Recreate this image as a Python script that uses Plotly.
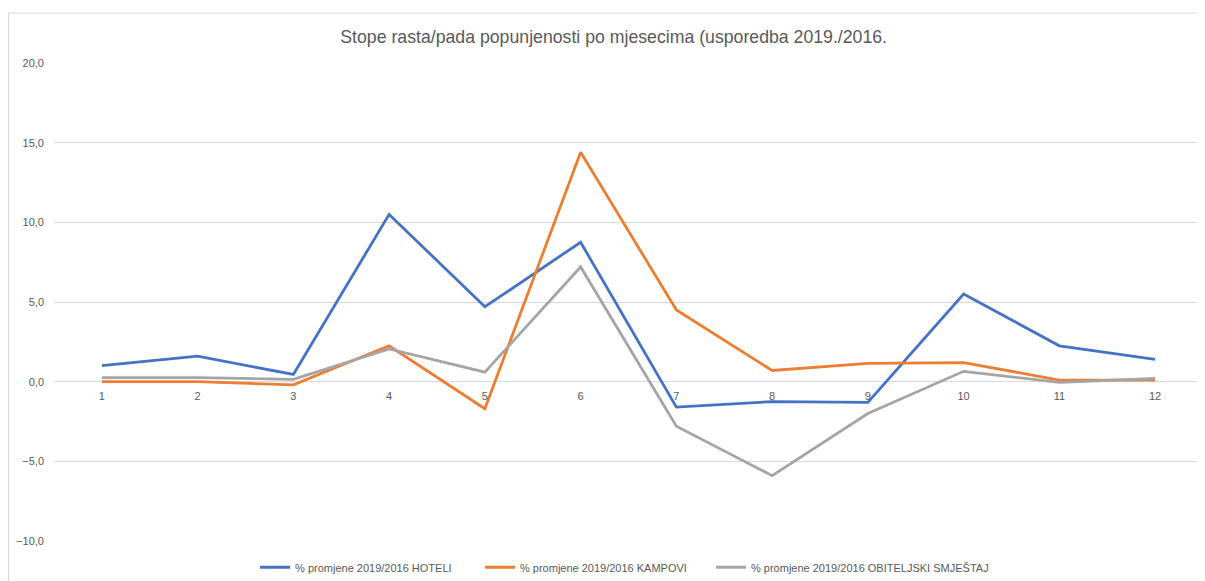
import plotly.graph_objects as go

months = [1, 2, 3, 4, 5, 6, 7, 8, 9, 10, 11, 12]
month_labels = [str(m) for m in months]
hoteli = [1.0, 1.6, 0.45, 10.5, 4.7, 8.75, -1.6, -1.25, -1.3, 5.5, 2.25, 1.4]
kampovi = [0.0, 0.0, -0.2, 2.25, -1.7, 14.4, 4.5, 0.7, 1.15, 1.2, 0.1, 0.1]
obiteljski = [0.25, 0.25, 0.15, 2.05, 0.6, 7.2, -2.8, -5.9, -2.0, 0.65, -0.05, 0.2]
series_names = ["% promjene 2019/2016 HOTELI", "% promjene 2019/2016 KAMPOVI",
                "% promjene 2019/2016 OBITELJSKI SMJEŠTAJ"]
colors = ["#4472C4", "#ED7D31", "#A5A5A5"]
y_ticks = [-10, -5, 0, 5, 10, 15, 20]

legend_ids = ["legend", "legend2", "legend3"]
legend_x = [0.2064, 0.3943, 0.5873]

fig = go.Figure()
for name, vals, col, lid in zip(series_names, [hoteli, kampovi, obiteljski], colors, legend_ids):
    fig.add_trace(go.Scatter(x=months, y=vals, mode="lines", name=name, legend=lid,
                             line=dict(color=col, width=2.8)))

font_fam = "Liberation Sans, Arial, sans-serif"
W, H = 1197, 573
L, T, R, B = 46, 55, 2, 40


def legend_cfg(xpos):
    return dict(orientation="h", x=xpos, xanchor="left", xref="container",
                y=0.024, yanchor="middle", yref="container",
                font=dict(size=11, color="#595959"), itemwidth=30,
                bgcolor="rgba(0,0,0,0)")


fig.update_layout(
    width=W, height=H,
    margin=dict(l=L, r=R, t=T, b=B, autoexpand=False),
    paper_bgcolor="white", plot_bgcolor="white",
    separators=",.",
    title=dict(text="Stope rasta/pada popunjenosti po mjesecima (usporedba 2019./2016.",
               x=0.506, xanchor="center", y=0.949, yanchor="middle",
               font=dict(family=font_fam, size=17.7, color="#595959")),
    font=dict(family=font_fam, size=11, color="#595959"),
    xaxis=dict(range=[0.5, 12.5], tickmode="array", tickvals=months, ticktext=month_labels,
               showgrid=False, showline=False, zeroline=False, ticks="",
               anchor="free", position=1/3, ticklabelstandoff=6,
               tickfont=dict(size=11, color="#595959")),
    yaxis=dict(range=[-10, 20], tickmode="array", tickvals=y_ticks, tickformat=".1f",
               showgrid=True, gridcolor="#D9D9D9", gridwidth=1, zeroline=True,
               zerolinecolor="#D9D9D9", zerolinewidth=1, showline=False, ticks="",
               ticklabelstandoff=9, tickfont=dict(size=11, color="#595959")),
    legend=legend_cfg(legend_x[0]),
    legend2=legend_cfg(legend_x[1]),
    legend3=legend_cfg(legend_x[2]),
    showlegend=True,
)
fig.add_shape(type="rect", xref="paper", yref="paper",
              x0=(0.5 - L) / (W - L - R), x1=1.05, y0=-0.2,
              y1=(H - B - 5) / (H - T - B),
              line=dict(color="#D9D9D9", width=1), layer="below")
fig.write_html("out.html")
